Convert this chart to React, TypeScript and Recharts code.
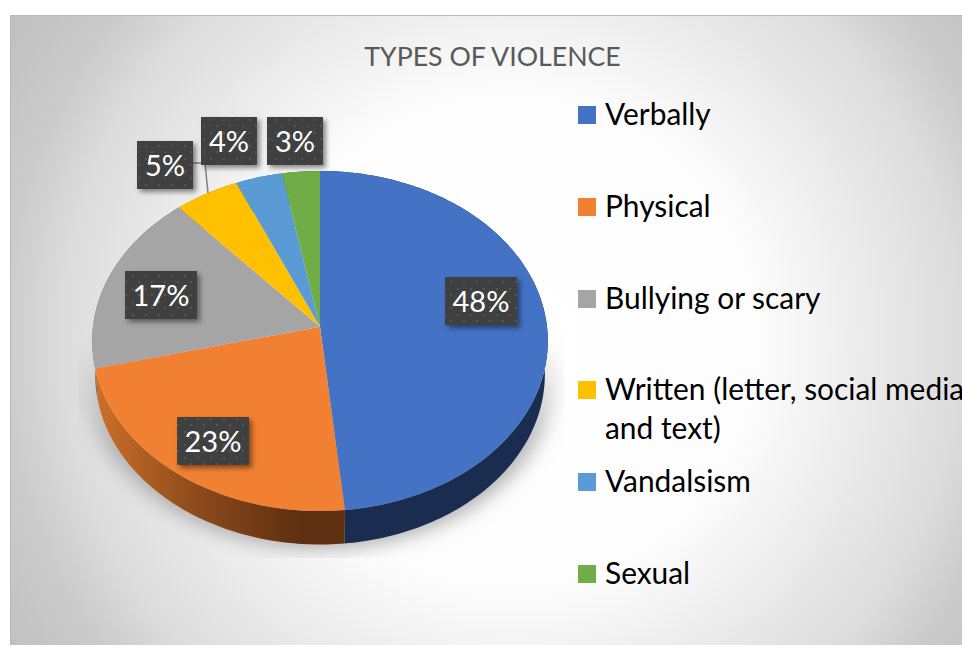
import { PieChart, Pie, Legend } from 'recharts';

const names = ['Verbally', 'Physical', 'Bullying or scary', 'Written (letter, social media and text)', 'Vandalsism', 'Sexual'];
const values = [48.4, 22.7, 17.4, 5.0, 3.6, 2.9];
const colors = ['#4472c4', '#f28033', '#a5a5a5', '#ffc000', '#5b9bd5', '#70ad47'];
const wallColors = ['#1a2c50', 'url(#orangeWall)', '#6b6b6b', '#a87f00', '#3a6a96', '#4a7330'];
const title = 'TYPES OF VIOLENCE';

const topRows = names.map((name, i) => ({ name, value: values[i], fill: colors[i] }));
const wallRows = names.map((name, i) => ({ name, value: values[i], fill: wallColors[i] }));

// where each data label box sits, same order as names
const labelBoxes = [
    { x: 445, y: 277, w: 72 },
    { x: 177, y: 417, w: 72 },
    { x: 125, y: 271, w: 72 },
    { x: 137, y: 141, w: 56 },
    { x: 201, y: 117, w: 56 },
    { x: 267, y: 117, w: 56 },
];
const legendTops = [92, 184, 276, 367, 459, 551];

const FONT = 'Lato, Carlito, sans-serif';
const TILT = 0.0841;
const SQUASH = 0.7436;
const WALL_DROP = 33.5;
const WALL_NARROW = 0.987;

// the pie is seen in perspective, so a circle point goes to a shifted ellipse
function project(cx: number, cy: number, r: number, deg: number, narrow = 1, drop = 0) {
    const a = (deg * Math.PI) / 180;
    const x = Math.cos(a);
    const y = -Math.sin(a);
    const d = 1 - TILT * y;
    return [cx + (r * narrow * x) / d, cy + drop + (r * SQUASH * y) / d];
}

function arcPoints(p: any, narrow = 1, drop = 0) {
    const steps = Math.max(4, Math.ceil(Math.abs(p.endAngle - p.startAngle)));
    const pts: number[][] = [];
    for (let i = 0; i <= steps; i++) {
        const deg = p.startAngle + ((p.endAngle - p.startAngle) * i) / steps;
        pts.push(project(p.cx, p.cy, p.outerRadius, deg, narrow, drop));
    }
    return pts;
}

const toPath = (pts: number[][]) => pts.map((q, i) => `${i ? 'L' : 'M'}${q[0].toFixed(2)} ${q[1].toFixed(2)}`).join(' ');

function TopSlice(p: any) {
    return <path d={`M${p.cx} ${p.cy} ${toPath(arcPoints(p)).replace('M', 'L')} Z`} fill={p.fill} stroke="none" />;
}

function WallSlice(p: any) {
    const upper = arcPoints(p);
    const lower = arcPoints(p, WALL_NARROW, WALL_DROP).reverse();
    return <path d={`${toPath(upper)} ${toPath(lower).replace('M', 'L')} Z`} fill={p.fill} stroke="none" />;
}

function DataLabel(p: any) {
    const box = labelBoxes[p.index];
    const text = `${(p.percent * 100).toFixed(0)}%`;
    return (
        <g>
            {p.index === 3 && (
                <path d="M193 163 H205 L208 193" fill="none" stroke="#7f7f7f" strokeWidth={1.5} />
            )}
            <rect x={box.x} y={box.y} width={box.w} height={48} fill="url(#dots)" filter="url(#boxShadow)" />
            <text
                x={box.x + box.w / 2}
                y={box.y + 35}
                textAnchor="middle"
                fontFamily={FONT}
                fontSize={29}
                fill="#ffffff"
            >
                {text}
            </text>
        </g>
    );
}

function LegendList({ payload }: any) {
    const items = (payload || []).filter((item: any) => item.type !== 'none');
    return (
        <div style={{ position: 'relative', width: 384, height: 646, fontFamily: FONT, fontSize: 29.9, color: '#000' }}>
            {items.map((item: any, i: number) => (
                <div key={item.value} style={{ position: 'absolute', left: 0, top: legendTops[i], width: 384 }}>
                    <div
                        style={{
                            position: 'absolute',
                            left: 0,
                            top: 14,
                            width: 18,
                            height: 18,
                            background: item.color,
                        }}
                    />
                    <div style={{ marginLeft: 27, paddingTop: 2, lineHeight: '39px', width: 400, whiteSpace: i === 3 ? 'pre-line' : 'nowrap' }}>
                        {i === 3 ? item.value.replace(' and', '\nand') : item.value}
                    </div>
                </div>
            ))}
        </div>
    );
}

export default function App() {
    return (
        <div style={{ position: 'absolute', left: 0, top: 0, width: 962, height: 646, overflow: 'hidden', background: '#fff' }}>
            <div
                style={{
                    position: 'absolute',
                    left: 10,
                    top: 15,
                    width: 952,
                    height: 630,
                    borderTop: '1.5px solid #b9b9b9',
                    borderLeft: '1.5px solid #b9b9b9',
                    boxSizing: 'border-box',
                    background:
                        'radial-gradient(circle at 500px 325px, #ffffff 0px, #fdfdfd 245px, #ececec 350px, #dcdcdc 450px, #cccccc 505px, #bfbfbf 600px, #bdbdbd 700px)',
                }}
            />
            <PieChart
                width={962}
                height={646}
                margin={{ top: 0, right: 0, bottom: 0, left: 0 }}
                style={{ position: 'absolute', left: 0, top: 0 }}
            >
                <defs>
                    <linearGradient id="orangeWall" gradientUnits="userSpaceOnUse" x1="96" y1="0" x2="300" y2="0">
                        <stop offset="0%" stopColor="#cc7029" />
                        <stop offset="50%" stopColor="#8c4a1b" />
                        <stop offset="100%" stopColor="#5e2f11" />
                    </linearGradient>
                    <pattern id="dots" patternUnits="userSpaceOnUse" width="13" height="13">
                        <rect width="13" height="13" fill="#404040" />
                        <rect x="2" y="2" width="2" height="2" fill="#555555" />
                        <rect x="8" y="8" width="2" height="2" fill="#555555" />
                    </pattern>
                    <filter id="boxShadow" x="-20%" y="-20%" width="150%" height="150%">
                        <feDropShadow dx="3" dy="3" stdDeviation="2.5" floodColor="#000" floodOpacity="0.45" />
                    </filter>
                    <filter id="pieBlur" x="-10%" y="-10%" width="120%" height="120%">
                        <feGaussianBlur stdDeviation="10" />
                    </filter>
                    <linearGradient id="shadowFade" x1="0" y1="0" x2="0" y2="1">
                        <stop offset="40%" stopColor="#b0b0b0" stopOpacity="0" />
                        <stop offset="70%" stopColor="#a8a8a8" stopOpacity="0.9" />
                        <stop offset="100%" stopColor="#a8a8a8" stopOpacity="1" />
                    </linearGradient>
                    <clipPath id="shadowClip">
                        <rect x="78" y="150" width="486" height="408" />
                    </clipPath>
                </defs>
                <g clipPath="url(#shadowClip)">
                    <ellipse cx={320} cy={372} rx={236} ry={176} fill="url(#shadowFade)" filter="url(#pieBlur)" />
                </g>
                <text x={492.5} y={66} textAnchor="middle" fontFamily={FONT} fontSize={26.7} fill="#595959">
                    {title}
                </text>
                <Pie
                    data={wallRows}
                    dataKey="value"
                    nameKey="name"
                    cx={320}
                    cy={326.7}
                    outerRadius={227}
                    startAngle={90}
                    endAngle={-270}
                    stroke="none"
                    legendType="none"
                    shape={WallSlice}
                    isAnimationActive={false}
                />
                <Pie
                    data={topRows}
                    dataKey="value"
                    nameKey="name"
                    cx={320}
                    cy={326.7}
                    outerRadius={227}
                    startAngle={90}
                    endAngle={-270}
                    stroke="none"
                    shape={TopSlice}
                    label={DataLabel}
                    labelLine={false}
                    isAnimationActive={false}
                />
                <Legend
                    content={<LegendList />}
                    layout="vertical"
                    itemSorter={null}
                    wrapperStyle={{ position: 'absolute', left: 578, top: 0, width: 384, height: 646 }}
                />
            </PieChart>
        </div>
    );
}
